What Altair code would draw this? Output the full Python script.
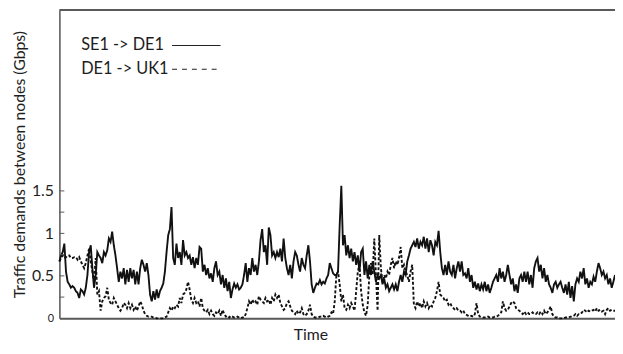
import altair as alt
import pandas as pd

# ---- data (Gbps), evenly spaced in time ----
se1_de1_part1 = [
    0.67, 0.74, 0.78, 0.88, 0.55, 0.43, 0.40, 0.36, 0.38, 0.36,
    0.32, 0.30, 0.24, 0.34, 0.32, 0.28, 0.36, 0.51, 0.78, 0.86,
    0.59, 0.36, 0.51, 0.78, 0.74, 0.71, 0.65, 0.78, 0.74, 0.80,
    0.94, 0.90, 1.02, 0.86, 0.74, 0.59, 0.43, 0.55, 0.47, 0.59,
    0.40, 0.57, 0.43, 0.59, 0.47, 0.57, 0.40, 0.55, 0.40, 0.59,
    0.69, 0.63, 0.55, 0.65, 0.51, 0.28, 0.20, 0.32, 0.22, 0.34,
    0.24, 0.32, 0.36, 0.41, 0.55, 0.78, 0.98, 1.05, 1.31, 0.71,
    0.63, 0.88, 0.71, 0.78, 0.63, 0.92, 0.74, 0.78, 0.71, 0.74,
    0.63, 0.72, 0.59, 0.71, 0.63, 0.84, 0.82, 0.55, 0.63, 0.51,
    0.59, 0.47, 0.53, 0.43, 0.59, 0.67, 0.51, 0.55, 0.40, 0.51,
    0.36, 0.47, 0.32, 0.43, 0.24, 0.34, 0.41, 0.36, 0.40, 0.34,
    0.36, 0.40, 0.51, 0.65, 0.43, 0.59, 0.51, 0.71, 0.55, 0.63,
    0.51, 0.67, 0.92, 1.05, 0.78, 0.86, 0.63, 1.07, 0.98, 0.74,
    0.78, 0.71, 0.78, 0.72, 0.82, 0.67, 0.94, 0.71, 0.59, 0.51,
    0.63, 0.47, 0.67, 0.78, 0.74, 0.63, 0.55, 0.71, 0.63, 0.59,
    0.74, 0.86, 0.67, 0.40, 0.30, 0.36, 0.41, 0.40, 0.45, 0.40,
    0.43, 0.41, 0.47, 0.51, 0.65, 0.59, 0.53, 0.51,
]
se1_de1_part2 = [
    0.51, 0.55, 1.09, 1.56, 0.86, 0.98, 0.74, 0.86, 0.71, 0.82,
    0.67, 0.78, 0.63, 0.74, 0.55, 0.78, 0.82, 0.51, 0.67, 0.47,
    0.63, 0.51, 0.67, 0.55, 0.43, 0.51, 0.47, 0.51, 0.40, 0.47,
    0.36, 0.40, 0.32, 0.36, 0.40, 0.34, 0.40, 0.32, 0.43, 0.51,
    0.43, 0.55, 0.51, 0.67, 0.74, 0.82, 0.86, 0.90, 0.84, 0.94,
    0.82, 0.90, 0.86, 0.96, 0.82, 0.94, 0.78, 0.92, 0.86, 0.74,
    0.90, 0.86, 1.03, 0.78, 0.59, 0.51, 0.63, 0.51, 0.67, 0.55,
    0.51, 0.63, 0.47, 0.59, 0.67, 0.55, 0.67, 0.51, 0.53, 0.47,
    0.59, 0.43, 0.51, 0.36, 0.43, 0.34, 0.41, 0.32, 0.40, 0.34,
    0.43, 0.32, 0.40, 0.30, 0.36, 0.43, 0.47, 0.51, 0.43, 0.59,
    0.47, 0.55, 0.43, 0.51, 0.63, 0.51, 0.40, 0.47, 0.32, 0.40,
    0.30, 0.47, 0.51, 0.43, 0.55, 0.43, 0.55, 0.40, 0.51, 0.36,
    0.59, 0.67, 0.71, 0.55, 0.63, 0.47, 0.59, 0.43, 0.51, 0.40,
    0.36, 0.30, 0.40, 0.43, 0.36, 0.40, 0.43, 0.36, 0.30, 0.40,
    0.28, 0.43, 0.24, 0.38, 0.20, 0.40, 0.47, 0.43, 0.55, 0.47,
    0.59, 0.40, 0.47, 0.36, 0.43, 0.40, 0.49, 0.43, 0.55, 0.65,
    0.59, 0.51, 0.55, 0.47, 0.51, 0.40, 0.47, 0.36, 0.43, 0.51,
]
de1_uk1_part1 = [
    0.67, 0.71, 0.74, 0.71, 0.72, 0.74, 0.74, 0.71, 0.71, 0.72,
    0.72, 0.69, 0.72, 0.67, 0.63, 0.59, 0.65, 0.74, 0.82, 0.67,
    0.55, 0.43, 0.71, 0.28, 0.32, 0.09, 0.20, 0.24, 0.26, 0.36,
    0.22, 0.18, 0.16, 0.24, 0.20, 0.16, 0.12, 0.09, 0.12, 0.18,
    0.16, 0.12, 0.18, 0.12, 0.16, 0.10, 0.14, 0.09, 0.14, 0.20,
    0.16, 0.09, 0.05, 0.03, 0.02, 0.02, 0.02, 0.01, 0.01, 0.00,
    0.00, 0.00, 0.00, 0.00, 0.01, 0.02, 0.07, 0.12, 0.09, 0.14,
    0.12, 0.16, 0.14, 0.24, 0.18, 0.28, 0.30, 0.34, 0.43, 0.34,
    0.22, 0.18, 0.24, 0.18, 0.20, 0.14, 0.24, 0.12, 0.09, 0.07,
    0.10, 0.05, 0.09, 0.05, 0.03, 0.07, 0.05, 0.09, 0.03, 0.10,
    0.05, 0.02, 0.03, 0.01, 0.03, 0.02, 0.01, 0.01, 0.02, 0.01,
    0.00, 0.01, 0.01, 0.05, 0.12, 0.20, 0.16, 0.22, 0.18, 0.20,
    0.16, 0.26, 0.22, 0.20, 0.18, 0.24, 0.20, 0.22, 0.16, 0.24,
    0.20, 0.28, 0.24, 0.28, 0.18, 0.14, 0.10, 0.12, 0.18, 0.20,
    0.14, 0.09, 0.07, 0.05, 0.09, 0.05, 0.07, 0.12, 0.05, 0.03,
    0.05, 0.09, 0.16, 0.05, 0.02, 0.01, 0.01, 0.01, 0.02, 0.02,
    0.03, 0.02, 0.01, 0.02, 0.03, 0.07, 0.05, 0.20,
]
de1_uk1_part2 = [
    0.51, 0.55, 0.40, 0.20, 0.28, 0.12, 0.10, 0.16, 0.12, 0.18,
    0.14, 0.09, 0.32, 0.55, 0.63, 0.32, 0.16, 0.07, 0.03, 0.16,
    0.51, 0.65, 0.51, 0.94, 0.51, 0.09, 0.98, 0.59, 0.43, 0.51,
    0.47, 0.55, 0.51, 0.63, 0.71, 0.59, 0.67, 0.63, 0.71, 0.84,
    0.59, 0.63, 0.55, 0.51, 0.43, 0.55, 0.63, 0.16, 0.12, 0.20,
    0.14, 0.18, 0.12, 0.20, 0.14, 0.18, 0.12, 0.16, 0.14, 0.20,
    0.24, 0.32, 0.43, 0.28, 0.26, 0.24, 0.20, 0.22, 0.16, 0.18,
    0.14, 0.12, 0.10, 0.12, 0.09, 0.09, 0.07, 0.09, 0.05, 0.04,
    0.03, 0.02, 0.03, 0.02, 0.05, 0.18, 0.05, 0.02, 0.02, 0.01,
    0.01, 0.01, 0.02, 0.01, 0.01, 0.01, 0.02, 0.02, 0.03, 0.05,
    0.07, 0.20, 0.12, 0.09, 0.10, 0.14, 0.18, 0.20, 0.18, 0.12,
    0.10, 0.09, 0.07, 0.05, 0.08, 0.05, 0.07, 0.05, 0.05, 0.07,
    0.05, 0.05, 0.07, 0.05, 0.08, 0.05, 0.09, 0.05, 0.07, 0.10,
    0.14, 0.05, 0.02, 0.01, 0.01, 0.00, 0.00, 0.00, 0.00, 0.01,
    0.01, 0.01, 0.02, 0.02, 0.03, 0.05, 0.03, 0.05, 0.05, 0.07,
    0.10, 0.09, 0.07, 0.09, 0.08, 0.09, 0.10, 0.08, 0.12, 0.09,
    0.10, 0.08, 0.09, 0.05, 0.10, 0.12, 0.09, 0.10, 0.09, 0.09,
]

series_names = ["SE1 -> DE1", "DE1 -> UK1"]
y_label_values = [0, 0.5, 1, 1.5]
y_minor_ticks = [0.25, 0.5, 0.75, 1.0, 1.25, 1.5]
y_title = "Traffic demands between nodes (Gbps)"
x_title = "Time"

se1_de1 = se1_de1_part1 + se1_de1_part2
de1_uk1 = de1_uk1_part1 + de1_uk1_part2
n = len(se1_de1)

df = pd.DataFrame({
    "t": list(range(n)),
    series_names[0]: se1_de1,
    series_names[1]: de1_uk1,
})
long = df.melt("t", var_name="series", value_name="gbps")

FONT = "Lato"
TXT = "#1e1e1e"
AX = "#5a5a5a"
W, H = 562, 312

x_scale = alt.Scale(domain=[0, n - 1], nice=False, zero=False)
y_scale = alt.Scale(domain=[0, 3.63], nice=False)

lines = alt.Chart(long).mark_line(color="#111111", strokeWidth=1.9).encode(
    x=alt.X("t:Q", scale=x_scale, axis=alt.Axis(
        title=x_title, labels=False, ticks=False, grid=False,
        domainColor=AX, domainWidth=2,
        titleFont=FONT, titleFontSize=16, titleFontWeight="normal",
        titleColor=TXT, titleX=254, titleY=8, titleBaseline="top",
        titleAlign="center")),
    y=alt.Y("gbps:Q", scale=y_scale, axis=alt.Axis(
        title=y_title, values=y_label_values, format="~g",
        ticks=False, grid=False, domainColor=AX, domainWidth=1.5,
        labelFont=FONT, labelColor=TXT, labelPadding=6,
        labelFontSize={"condition": {"test": "datum.value == 0", "value": 11}, "value": 16},
        titleFont=FONT, titleFontSize=16, titleFontWeight="normal",
        titleColor=TXT, titlePadding=4)),
    strokeDash=alt.StrokeDash("series:N", scale=alt.Scale(
        domain=series_names, range=[[1, 0], [3, 2]]), legend=None),
    detail="series:N",
)

ticks = alt.Chart(pd.DataFrame({"v": y_minor_ticks})).mark_rule(
    color=AX, strokeWidth=1).encode(
    y=alt.Y("v:Q", scale=y_scale),
    x=alt.value(0), x2=alt.value(5),
)

top_border = alt.Chart(pd.DataFrame({"v": [0]})).mark_rule(
    color=AX, strokeWidth=2).encode(
    x=alt.value(0), x2=alt.value(W), y=alt.value(0),
)

legend_layers = []
legend_rows = [(41, [1, 0], 36), (65, [5, 5], 60)]
for name, (ty, dash, ly) in zip(series_names, legend_rows):
    legend_layers.append(
        alt.Chart(pd.DataFrame({"label": [name]})).mark_text(
            align="left", baseline="alphabetic", font=FONT, fontSize=16.5,
            color=TXT).encode(text="label:N", x=alt.value(22), y=alt.value(ty))
    )
    legend_layers.append(
        alt.Chart(pd.DataFrame({"label": [name]})).mark_rule(
            color="#222222", strokeWidth=1.2, strokeDash=dash).encode(
            x=alt.value(114), x2=alt.value(163), y=alt.value(ly))
    )

chart = alt.layer(lines, ticks, top_border, *legend_layers).properties(
    width=W, height=H,
    autosize=alt.AutoSizeParams(type="none"),
    padding={"left": 52, "top": 0, "right": 0, "bottom": 22},
).configure_view(stroke=None).configure(background="white")

chart.save("out.html", embed_options={"renderer": "svg", "actions": False})
